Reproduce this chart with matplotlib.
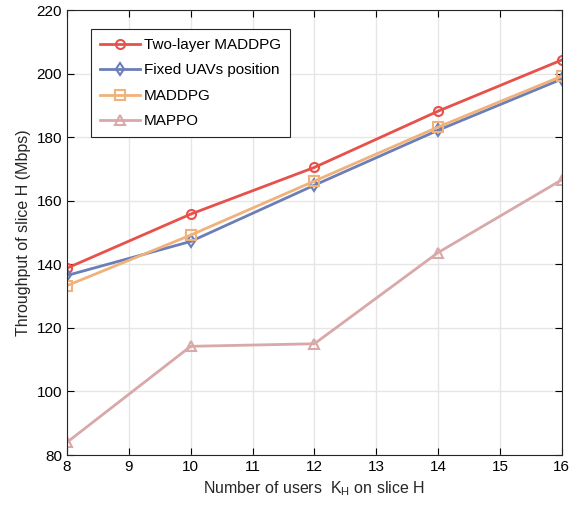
import matplotlib
matplotlib.use("Agg")
import matplotlib.pyplot as plt

plt.rcParams['font.family'] = ['Liberation Sans', 'DejaVu Sans']
plt.rcParams['mathtext.fontset'] = 'custom'
plt.rcParams['mathtext.rm'] = 'Liberation Sans'
plt.rcParams['mathtext.it'] = 'Liberation Sans'

users = [8, 10, 12, 14, 16]
two_layer = [138.8, 155.8, 170.5, 188.2, 204.3]
fixed_uav = [136.5, 147.2, 164.9, 182.2, 198.3]
maddpg = [133.3, 149.2, 166.2, 183.2, 199.2]
mappo = [84.0, 114.2, 115.0, 143.7, 166.6]

labels = ['Two-layer MADDPG', 'Fixed UAVs position', 'MADDPG', 'MAPPO']
colors = ['#E8504A', '#6A7FB8', '#F0B27A', '#D9A8A8']
markers = ['o', 'd', 's', '^']

fig = plt.figure(figsize=(5.75, 5.05), dpi=100)
ax = fig.add_axes([0.1165, 0.099, 0.8605, 0.881])

for ys, lab, c, m in zip([two_layer, fixed_uav, maddpg, mappo], labels, colors, markers):
    ax.plot(users, ys, color=c, marker=m, markersize=6.5, markerfacecolor='none',
            markeredgewidth=1.5, linewidth=2, label=lab)

ax.set_xlim(8, 16)
ax.set_ylim(80, 220)
ax.set_xticks(range(8, 17))
ax.set_yticks(range(80, 221, 20))
ax.grid(True, color='#e6e6e6', linewidth=1)
ax.set_axisbelow(True)
ax.tick_params(direction='in', labelsize=11, top=True, right=True, length=5)
for s in ax.spines.values():
    s.set_color('#262626')
    s.set_linewidth(0.8)
ax.set_xlabel(r'Number of users  $\mathrm{K_H}$ on slice H', fontsize=11.5, color='#262626')
ax.set_ylabel('Throughput of slice H (Mbps)', fontsize=11.5, color='#262626')

leg = ax.legend(loc='upper left', bbox_to_anchor=(0.048, 0.958), borderaxespad=0,
                fontsize=11, fancybox=False, edgecolor='#262626', framealpha=1,
                handlelength=2.6, borderpad=0.6, labelspacing=0.75, handletextpad=0.3)
leg.get_frame().set_linewidth(0.8)

fig.savefig('out.png', dpi=100)
